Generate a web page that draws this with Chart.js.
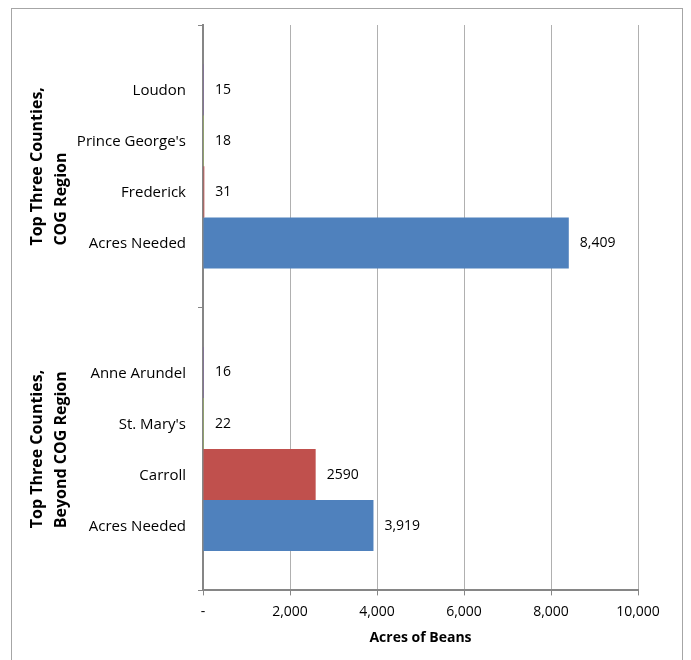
<!DOCTYPE html>
<html>
<head>
    <title>Acres of Beans</title>
    <script src="https://cdn.jsdelivr.net/npm/chart.js"></script>
    <style>
        html, body { margin: 0; padding: 0; background: #fff; }
        #wrap { width: 691px; height: 660px; }
    </style>
</head>
<body>
    <div id="wrap"><canvas id="myChart" width="691" height="660"></canvas></div>
    <script>
        // groups, top to bottom
        var groupNames = [['Top Three Counties,', 'COG Region'], ['Top Three Counties,', 'Beyond COG Region']];

        // series, top bar of each group first
        var firstCounty = ['Loudon', 'Anne Arundel'];
        var firstValues = [15, 16];
        var secondCounty = ["Prince George's", "St. Mary's"];
        var secondValues = [18, 22];
        var thirdCounty = ['Frederick', 'Carroll'];
        var thirdValues = [31, 2590];
        var neededNames = ['Acres Needed', 'Acres Needed'];
        var neededValues = [8409, 3919];

        // value labels as printed on the chart
        var firstText = ['15', '16'];
        var secondText = ['18', '22'];
        var thirdText = ['31', '2590'];
        var neededText = ['8,409', '3,919'];

        var xTicks = [0, 2000, 4000, 6000, 8000, 10000];

        var font = "'Open Sans', sans-serif";

        var ds = [
            { label: 'first', data: firstValues, backgroundColor: '#8064A2', names: firstCounty, texts: firstText },
            { label: 'second', data: secondValues, backgroundColor: '#9BBB59', names: secondCounty, texts: secondText },
            { label: 'third', data: thirdValues, backgroundColor: '#C0504D', names: thirdCounty, texts: thirdText },
            { label: 'needed', data: neededValues, backgroundColor: '#4F81BD', names: neededNames, texts: neededText }
        ];

        var labelPlugin = {
            id: 'labels',
            beforeDraw: function (chart) {
                var c = chart.ctx;
                c.save();
                c.strokeStyle = '#a6a6a6';
                c.lineWidth = 1;
                c.strokeRect(11.5, 8.5, 671, 700);
                c.restore();
            },
            afterDatasetsDraw: function (chart) {
                var c = chart.ctx;
                var area = chart.chartArea;
                var yScale = chart.scales.y;
                c.save();
                c.fillStyle = '#000';
                c.textBaseline = 'middle';
                chart.data.datasets.forEach(function (d, i) {
                    var meta = chart.getDatasetMeta(i);
                    meta.data.forEach(function (bar, j) {
                        c.font = '15px ' + font;
                        c.textAlign = 'right';
                        c.fillText(d.names[j], area.left - 17, bar.y + 1);
                        c.font = '14px ' + font;
                        c.textAlign = 'left';
                        c.fillText(d.texts[j], bar.x + 11, bar.y);
                    });
                });
                // rotated group names
                c.font = 'bold 16px ' + font;
                groupNames.forEach(function (lines, j) {
                    var cy = yScale.getPixelForValue(j);
                    var w = Math.max.apply(null, lines.map(function (t) { return c.measureText(t).width; }));
                    c.save();
                    c.translate(37, cy + w / 2);
                    c.rotate(-Math.PI / 2);
                    c.textAlign = 'left';
                    lines.forEach(function (t, k) {
                        c.fillText(t, 0, k * 24);
                    });
                    c.restore();
                });
                c.restore();
            }
        };

        var ctx = document.getElementById('myChart').getContext('2d');
        var myChart = new Chart(ctx, {
            type: 'bar',
            data: {
                labels: groupNames.map(function (g) { return g.join(' '); }),
                datasets: ds
            },
            options: {
                indexAxis: 'y',
                responsive: false,
                animation: false,
                layout: { padding: { top: 25, right: 53, bottom: 10, left: 0 } },
                datasets: { bar: { barPercentage: 1, categoryPercentage: 0.722, borderWidth: 0, minBarLength: 1 } },
                plugins: {
                    legend: { display: false },
                    tooltip: { enabled: false }
                },
                scales: {
                    x: {
                        min: 0,
                        max: 10000,
                        afterBuildTicks: function (s) {
                            s.ticks = xTicks.map(function (v) { return { value: v }; });
                        },
                        ticks: {
                            color: '#000',
                            padding: 8,
                            font: { family: font, size: 14 },
                            callback: function (v) { return v === 0 ? '-' : v.toLocaleString('en-US'); }
                        },
                        grid: { color: '#b0b0b0', tickColor: '#868686', tickLength: 5 },
                        border: { color: '#868686', width: 2 },
                        title: {
                            display: true,
                            text: 'Acres of Beans',
                            color: '#000',
                            font: { family: font, size: 14, weight: 'bold' },
                            padding: { top: 1, bottom: 4 }
                        }
                    },
                    y: {
                        afterFit: function (s) { s.width = 203; },
                        ticks: { display: false },
                        grid: { drawOnChartArea: false, tickColor: '#868686', tickLength: 5 },
                        border: { color: '#868686', width: 2 }
                    }
                }
            },
            plugins: [labelPlugin]
        });
    </script>
</body>
</html>
